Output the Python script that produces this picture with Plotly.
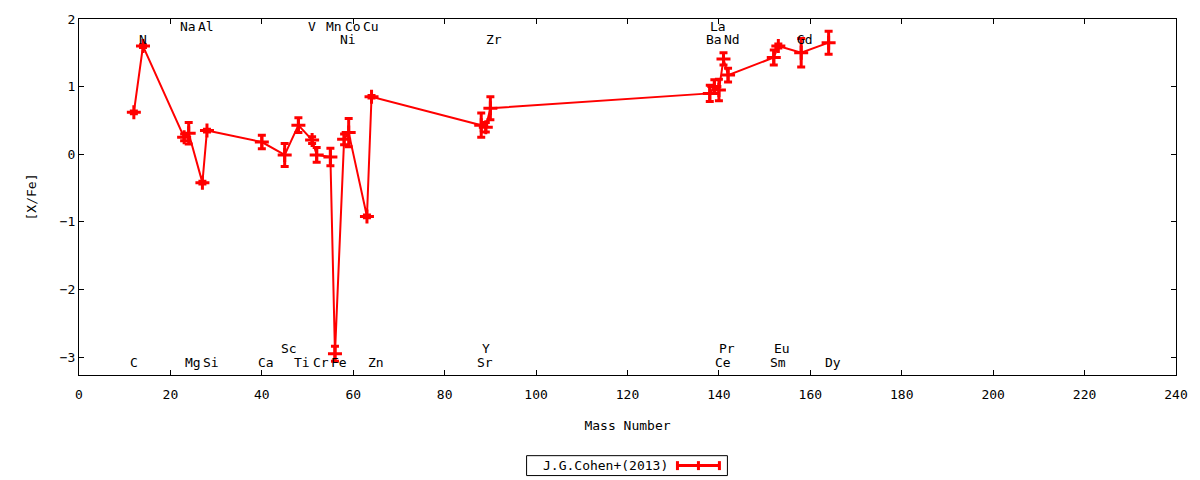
import plotly.graph_objects as go

# element abundances, J.G.Cohen+(2013)
elements = ["C", "N", "Na", "Mg", "Al", "Si", "Ca", "Sc", "Ti", "V", "Cr", "Mn", "Fe",
            "Ni", "Co", "Cu", "Zn", "Sr", "Y", "Zr", "Ba", "La", "Ce", "Pr", "Nd",
            "Sm", "Eu", "Gd", "Dy"]
mass_number = [12, 14, 23, 24, 27, 28, 40, 45, 48, 51, 52, 55, 56,
               58, 59, 63, 64, 88, 89, 90, 138, 139, 140, 141, 142,
               152, 153, 158, 164]
x_fe = [0.62, 1.60, 0.25, 0.31, -0.42, 0.35, 0.18, -0.01, 0.43, 0.21, -0.01, -0.04, -2.95,
        0.22, 0.32, -0.92, 0.85, 0.43, 0.40, 0.68, 0.90, 1.00, 0.95, 1.41, 1.17,
        1.43, 1.60, 1.50, 1.65]
x_fe_err = [0.02, 0.02, 0.05, 0.16, 0.02, 0.02, 0.10, 0.17, 0.11, 0.05, 0.11, 0.13, 0.11,
            0.08, 0.21, 0.02, 0.02, 0.18, 0.07, 0.17, 0.12, 0.10, 0.16, 0.09, 0.10,
            0.11, 0.03, 0.21, 0.17]
# which row each element name sits in
label_row = ["bot1", "top2", "top1", "bot1", "top1", "bot1", "bot1", "bot2", "bot1", "top1", "bot1", "top1", "bot1",
             "top2", "top1", "top1", "bot1", "bot1", "bot2", "top2", "top2", "top1", "bot1", "bot2", "top2",
             "bot1", "bot2", "top2", "bot1"]

row_y = {"top1": 1.885, "top2": 1.70, "bot2": -2.88, "bot1": -3.087}
red = "#ff0000"
font = "DejaVu Sans Mono"

fig = go.Figure()
fig.add_trace(go.Scatter(
    x=mass_number, y=x_fe,
    mode="lines+markers",
    line=dict(color=red, width=2),
    marker=dict(symbol="cross-thin", size=10, line=dict(color=red, width=3), color=red),
    error_y=dict(type="data", array=x_fe_err, color=red, thickness=3, width=4),
    showlegend=False,
))

for el, m, row in zip(elements, mass_number, label_row):
    fig.add_annotation(x=m, y=row_y[row], text=el, showarrow=False,
                       xanchor="left", yanchor="middle", xshift=-6,
                       font=dict(family=font, size=13, color="black"))

# hand-drawn legend box like gnuplot's (sample on the right)
W, H = 1098.0, 357.5
def px(x):
    return (x - 79) / W
def py(y):
    return (375 - y) / H

fig.add_shape(type="rect", xref="paper", yref="paper",
              x0=px(527), x1=px(728), y0=py(476), y1=py(456),
              line=dict(color="black", width=1))
fig.add_annotation(xref="paper", yref="paper", x=px(606), y=py(466),
                   text="J.G.Cohen+(2013)", showarrow=False, yanchor="middle",
                   font=dict(family=font, size=13, color="black"))
fig.add_shape(type="line", xref="paper", yref="paper",
              x0=px(678), x1=px(720), y0=py(466), y1=py(466),
              line=dict(color=red, width=3))
for cx in (678, 699, 720):
    fig.add_shape(type="line", xref="paper", yref="paper",
                  x0=px(cx), x1=px(cx), y0=py(461.5), y1=py(470.5),
                  line=dict(color=red, width=3))

axis = dict(showgrid=False, zeroline=False, showline=True, linecolor="black", linewidth=1,
            mirror="ticks", ticks="inside", ticklen=5, tickcolor="black",
            tickfont=dict(family=font, size=13, color="black"))
fig.update_xaxes(range=[0, 240], dtick=20, ticklabelstandoff=7,
                 title=dict(text="Mass Number", font=dict(family=font, size=13, color="black"), standoff=20),
                 **axis)
fig.update_yaxes(range=[-3.265, 2.0], dtick=1,
                 title=dict(text="[X/Fe]", font=dict(family=font, size=13, color="black"), standoff=20),
                 **axis)
fig.update_layout(width=1200, height=480, plot_bgcolor="white", paper_bgcolor="white",
                  margin=dict(l=79, r=23, t=17, b=105))
fig.write_html("out.html", config={"displayModeBar": False},
               post_script="document.body.style.margin='0';")
